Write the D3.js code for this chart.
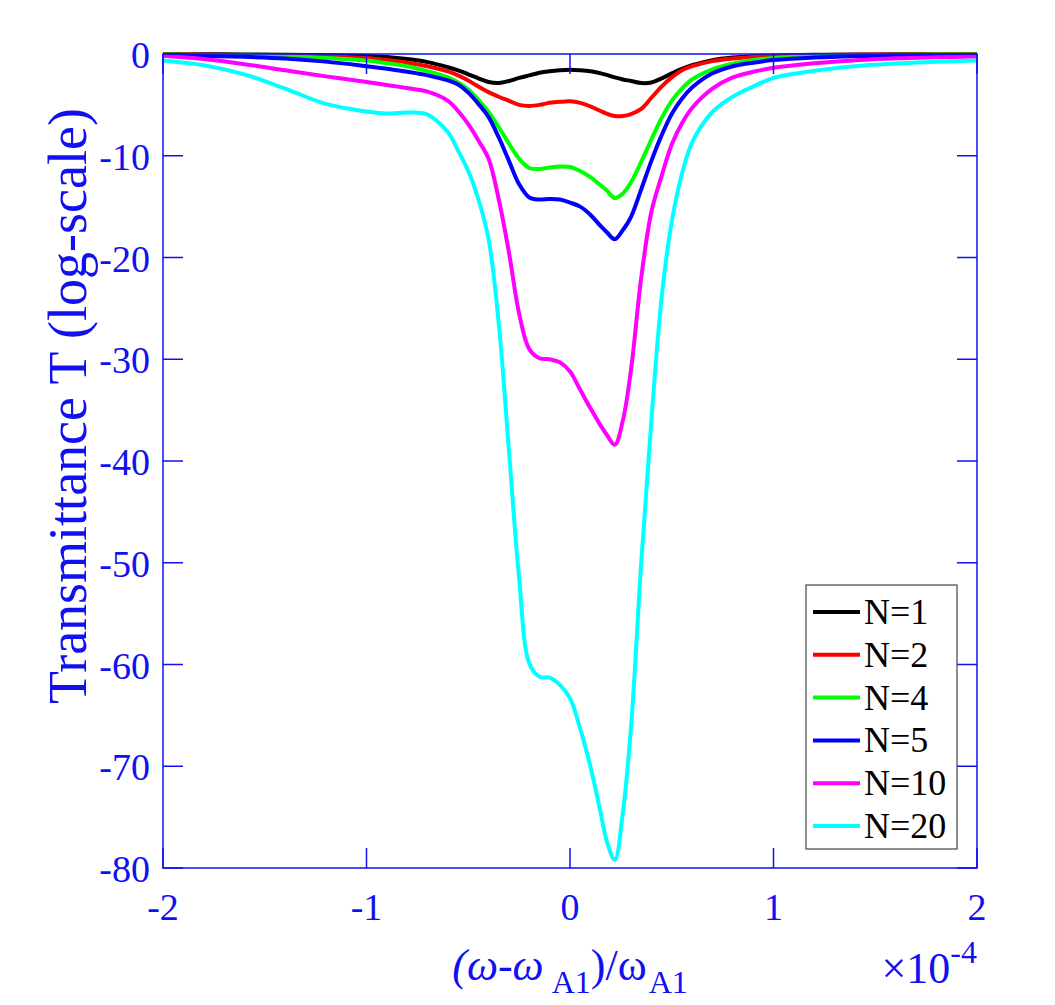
<!DOCTYPE html>
<html>
<head>
<meta charset="utf-8">
<script src="https://cdn.jsdelivr.net/npm/d3@7"></script>
<style>
  body { margin: 0; background: #fff; }
  text { font-family: "Liberation Serif", "Times New Roman", serif; }
</style>
</head>
<body>
<script>
// detuning, units of 1e-4
var detuning = [-2, -1.8, -1.6, -1.4, -1.2, -1.0, -0.9, -0.8, -0.7, -0.6,
  -0.55, -0.5, -0.45, -0.4, -0.35, -0.3, -0.25, -0.2, -0.15, -0.1,
  -0.05, 0, 0.05, 0.1, 0.15, 0.18, 0.22, 0.26, 0.3, 0.35,
  0.4, 0.45, 0.5, 0.55, 0.6, 0.7, 0.8, 0.9, 1.0, 1.2,
  1.4, 1.6, 1.8, 2.0];

var tN1 = [-0.01, -0.02, -0.04, -0.07, -0.12, -0.2, -0.3, -0.5, -0.8, -1.3,
  -1.6, -2.0, -2.4, -2.75, -2.85, -2.65, -2.35, -2.1, -1.85, -1.7,
  -1.6, -1.55, -1.6, -1.7, -1.9, -2.05, -2.3, -2.5, -2.65, -2.85,
  -2.8, -2.4, -1.9, -1.45, -1.1, -0.6, -0.35, -0.22, -0.15, -0.08,
  -0.05, -0.03, -0.02, -0.01];
var tN2 = [-0.05, -0.07, -0.1, -0.15, -0.25, -0.4, -0.6, -0.85, -1.2, -1.7,
  -2.1, -2.6, -3.2, -3.75, -4.2, -4.6, -5.0, -5.1, -5.0, -4.8,
  -4.7, -4.65, -4.8, -5.15, -5.6, -5.85, -6.1, -6.1, -5.9, -5.4,
  -4.3, -3.2, -2.3, -1.6, -1.2, -0.7, -0.45, -0.3, -0.2, -0.12,
  -0.08, -0.05, -0.04, -0.03];
var tN4 = [-0.05, -0.1, -0.15, -0.25, -0.4, -0.65, -0.9, -1.2, -1.7, -2.3,
  -2.8, -3.5, -4.5, -5.7, -7.2, -8.8, -10.3, -11.2, -11.3, -11.15,
  -11.05, -11.1, -11.5, -12.1, -12.9, -13.4, -14.15, -13.7, -12.6, -10.6,
  -8.4, -6.3, -4.6, -3.4, -2.5, -1.5, -0.95, -0.6, -0.4, -0.2,
  -0.12, -0.08, -0.06, -0.05];
var tN5 = [-0.1, -0.18, -0.28, -0.45, -0.75, -1.2, -1.45, -1.75, -2.1, -2.6,
  -3.0, -3.8, -4.9, -6.2, -8.2, -10.5, -12.8, -14.1, -14.3, -14.25,
  -14.3, -14.6, -15.0, -15.8, -16.9, -17.5, -18.2, -17.3, -16.0, -13.3,
  -10.5, -8.0, -5.9, -4.4, -3.3, -1.9, -1.2, -0.85, -0.6, -0.35,
  -0.22, -0.15, -0.12, -0.1];
var tN10 = [-0.17, -0.5, -1.0, -1.6, -2.2, -2.75, -3.05, -3.35, -3.7, -4.6,
  -5.6, -6.9, -8.5, -10.3, -14.3, -19.5, -25.5, -29.0, -29.9, -30.0,
  -30.3, -31.2, -33.0, -34.8, -36.5, -37.4, -38.4, -36.0, -31.0, -22.0,
  -15.5, -12.0, -8.9, -6.8, -5.3, -3.4, -2.3, -1.75, -1.35, -0.9,
  -0.62, -0.42, -0.32, -0.25];
var tN20 = [-0.63, -1.1, -2.0, -3.4, -4.9, -5.65, -5.85, -5.75, -5.95, -7.7,
  -9.5, -11.5, -14.3, -18.2, -26.5, -39.0, -51.5, -59.9, -61.2, -61.3,
  -62.0, -63.3, -66.3, -70.0, -74.5, -77.3, -79.2, -74.5, -66.1, -50.0,
  -36.0, -24.0, -16.5, -11.8, -8.7, -5.7, -4.2, -3.2, -2.35, -1.65,
  -1.2, -0.93, -0.77, -0.63];

var seriesNames = ["N=1", "N=2", "N=4", "N=5", "N=10", "N=20"];
var seriesColors = ["#000000", "#ff0000", "#00ff00", "#0000ff", "#ff00ff", "#00ffff"];
var seriesValues = [tN1, tN2, tN4, tN5, tN10, tN20];

var xTicks = [-2, -1, 0, 1, 2];
var yTicks = [0, -10, -20, -30, -40, -50, -60, -70, -80];

(function() {
  'use strict';

  var width = 1055, height = 1005,
      margin = {left: 163, right: 78, top: 54, bottom: 137};
  var axisColor = "#1010f0";

  var svg = d3.select("body").append("svg")
      .attr("width", width)
      .attr("height", height);

  svg.append("rect").attr("width", width).attr("height", height).attr("fill", "#fff");

  var x = d3.scaleLinear().domain([-2, 2]).range([margin.left, width - margin.right]);
  var y = d3.scaleLinear().domain([-80, 0]).range([height - margin.bottom, margin.top]);

  var line = d3.line()
      .x(function(d) { return x(d[0]); })
      .y(function(d) { return y(d[1]); })
      .curve(d3.curveCatmullRom.alpha(0.5));

  var series = seriesValues.map(function(vals, i) {
    return {name: seriesNames[i], color: seriesColors[i],
            points: detuning.map(function(t, j) { return [t, vals[j]]; })};
  });

  var plot = svg.append("g");
  plot.selectAll("path.curve").data(series).enter()
      .append("path")
      .attr("class", "curve")
      .attr("d", function(d) { return line(d.points); })
      .attr("fill", "none")
      .attr("stroke", function(d) { return d.color; })
      .attr("stroke-width", 4)
      .attr("stroke-linejoin", "round");

  // box with inward ticks on all sides
  var tickLen = 20;
  var axes = svg.append("g")
      .attr("stroke", axisColor)
      .attr("stroke-width", 1.5)
      .attr("fill", "none");

  axes.append("rect")
      .attr("x", x(-2)).attr("y", y(0))
      .attr("width", x(2) - x(-2)).attr("height", y(-80) - y(0));

  xTicks.forEach(function(t) {
    axes.append("line").attr("x1", x(t)).attr("x2", x(t))
        .attr("y1", y(-80)).attr("y2", y(-80) - tickLen);
    axes.append("line").attr("x1", x(t)).attr("x2", x(t))
        .attr("y1", y(0)).attr("y2", y(0) + tickLen);
  });
  yTicks.forEach(function(t) {
    axes.append("line").attr("x1", x(-2)).attr("x2", x(-2) + tickLen)
        .attr("y1", y(t)).attr("y2", y(t));
    axes.append("line").attr("x1", x(2)).attr("x2", x(2) - tickLen)
        .attr("y1", y(t)).attr("y2", y(t));
  });

  var tickFont = 38;
  svg.selectAll("text.xtick").data(xTicks).enter()
      .append("text")
      .attr("class", "xtick")
      .attr("x", function(d) { return x(d); })
      .attr("y", y(-80) + 52)
      .attr("text-anchor", "middle")
      .attr("font-size", tickFont)
      .attr("fill", axisColor)
      .text(function(d) { return String(d); });

  svg.selectAll("text.ytick").data(yTicks).enter()
      .append("text")
      .attr("class", "ytick")
      .attr("x", x(-2) - 13)
      .attr("y", function(d) { return y(d) + 14; })
      .attr("text-anchor", "end")
      .attr("font-size", tickFont)
      .attr("fill", axisColor)
      .text(function(d) { return String(d); });

  // y label
  svg.append("text")
      .attr("transform", "translate(" + 86 + "," + 406 + ") rotate(-90)")
      .attr("text-anchor", "middle")
      .attr("font-size", 54)
      .attr("fill", axisColor)
      .text("Transmittance T (log-scale)");

  // x label: (ω-ω_A1)/ω_A1
  var xl = svg.append("text")
      .attr("x", (x(-2) + x(2)) / 2)
      .attr("y", 980)
      .attr("text-anchor", "middle")
      .attr("font-size", 44)
      .attr("fill", axisColor);
  xl.append("tspan").attr("font-style", "italic").text("(ω-ω");
  xl.append("tspan").attr("dy", 13).attr("dx", 8).attr("font-size", 32).text("A1");
  xl.append("tspan").attr("dy", -13).text(")/ω");
  xl.append("tspan").attr("dy", 13).attr("dx", 2).attr("font-size", 32).text("A1");

  // exponent
  var ex = svg.append("text")
      .attr("x", x(2))
      .attr("y", 983)
      .attr("text-anchor", "end")
      .attr("font-size", 44)
      .attr("fill", axisColor);
  ex.append("tspan").text("×10");
  ex.append("tspan").attr("dy", -20).attr("font-size", 32).text("-4");

  // legend
  var lg = svg.append("g").attr("transform", "translate(806,585)");
  lg.append("rect")
      .attr("width", 151).attr("height", 264)
      .attr("fill", "#fff")
      .attr("stroke", "#444")
      .attr("stroke-width", 1.2);
  var items = lg.selectAll("g.item").data(series).enter()
      .append("g")
      .attr("class", "item")
      .attr("transform", function(d, i) { return "translate(0," + (27 + i * 42.8) + ")"; });
  items.append("line")
      .attr("x1", 7).attr("x2", 54)
      .attr("stroke", function(d) { return d.color; })
      .attr("stroke-width", 4);
  items.append("text")
      .attr("x", 58)
      .attr("y", 12)
      .attr("font-size", 36)
      .attr("fill", "#000")
      .text(function(d) { return d.name; });
})();
</script>
</body>
</html>
